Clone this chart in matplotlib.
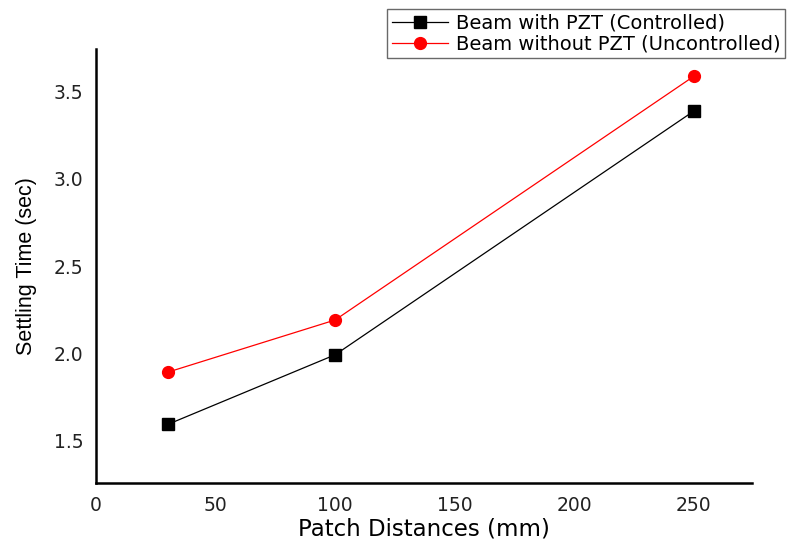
import matplotlib.pyplot as plt

plt.rcParams['font.family'] = ['DejaVu Sans']

# patch distance (mm) vs settling time (sec)
distances = [30, 100, 250]
controlled = [1.59, 1.99, 3.39]
uncontrolled = [1.89, 2.19, 3.59]

fig = plt.figure(figsize=(7.87, 5.44), dpi=100)
ax = fig.add_axes([0.122, 0.112, 0.834, 0.798])

ax.plot(distances, controlled, color='black', lw=0.9, marker='s', markersize=8.5,
        label='Beam with PZT (Controlled)')
ax.plot(distances, uncontrolled, color='red', lw=0.9, marker='o', markersize=8.5,
        label='Beam without PZT (Uncontrolled)')

ax.set_xlim(0, 274.5)
ax.set_ylim(1.253, 3.747)
ax.set_xticks([0, 50, 100, 150, 200, 250])
ax.set_yticks([1.5, 2.0, 2.5, 3.0, 3.5])
ax.set_yticklabels(['1.5', '2.0', '2.5', '3.0', '3.5'])
ax.tick_params(length=0, labelsize=13.5, pad=9, colors='#222222')
ax.spines['top'].set_visible(False)
ax.spines['right'].set_visible(False)
for s in ('left', 'bottom'):
    ax.spines[s].set_linewidth(1.8)

ax.set_xlabel('Patch Distances (mm)', fontsize=16.5, labelpad=2)
# vertical label keeps the narrower face, its length already matches
ax.set_ylabel('Settling Time (sec)', fontsize=15.5, labelpad=12,
              family=['Liberation Sans', 'DejaVu Sans'])

leg = fig.legend(loc='upper right', bbox_to_anchor=(0.998, 0.984), fontsize=14,
                 frameon=True, fancybox=False, borderaxespad=0, handlelength=2.9,
                 handletextpad=0.4, borderpad=0.25, labelspacing=0.1)
leg.get_frame().set_edgecolor('#444444')
leg.get_frame().set_linewidth(1.0)

fig.savefig('out.png', dpi=100)
